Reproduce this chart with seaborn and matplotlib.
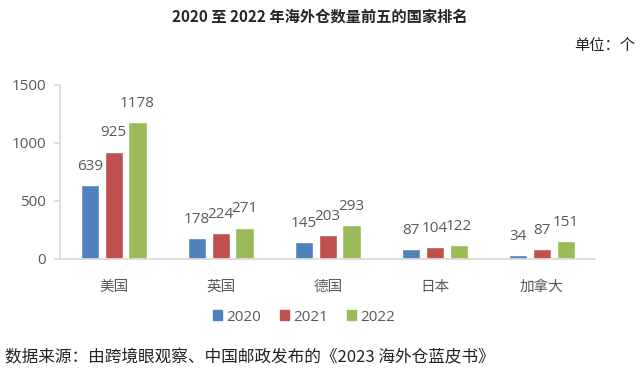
import matplotlib
matplotlib.use("Agg")
import matplotlib.pyplot as plt
import seaborn as sns
import pandas as pd
from matplotlib.patches import Patch

countries = ["美国", "英国", "德国", "日本", "加拿大"]
years = ["2020", "2021", "2022"]
v2020 = [639, 178, 145, 87, 34]
v2021 = [925, 224, 203, 104, 87]
v2022 = [1178, 271, 293, 122, 151]
colors = ["#4F81BD", "#C0504D", "#9BBB59"]

rows = []
for y, vals in zip(years, [v2020, v2021, v2022]):
    for c, v in zip(countries, vals):
        rows.append({"country": c, "year": y, "value": v})
df = pd.DataFrame(rows)

sns.set_theme(style="white")
plt.rcParams["font.family"] = ["Open Sans", "Noto Sans CJK SC", "DejaVu Sans"]

fig = plt.figure(figsize=(6.4, 3.77), dpi=100)
ax = fig.add_axes([0.094, 0.313, 0.836, 0.462])

sns.barplot(data=df, x="country", y="value", hue="year", palette=colors,
            width=0.67, gap=0.24, saturation=1, ax=ax, legend=False)

grey = "#595959"
for cont in ax.containers:
    ax.bar_label(cont, padding=8, fontsize=11, color=grey)

ax.set_xlim(-0.5, 4.5)
ax.set_ylim(0, 1500)
ax.set_yticks([0, 500, 1000, 1500])
ax.set_xlabel("")
ax.set_ylabel("")
for s in ["top", "right"]:
    ax.spines[s].set_visible(False)
ax.spines["left"].set_color("#d9d9d9")
ax.spines["bottom"].set_color("#d9d9d9")
ax.tick_params(axis="y", labelsize=11, labelcolor=grey, left=True, length=4,
               color="#d9d9d9", pad=6)
ax.tick_params(axis="x", labelsize=10.5, labelcolor=grey, bottom=False, pad=9)

handles = [Patch(color=c, label=y) for c, y in zip(colors, years)]
fig.legend(handles=handles, loc="center", bbox_to_anchor=(0.475, 0.159), ncol=3,
           frameon=False, fontsize=11, labelcolor=grey, handlelength=0.6,
           handleheight=0.6, handletextpad=0.3, columnspacing=1.2)

fig.text(0.5, 0.955, "2020 至 2022 年海外仓数量前五的国家排名", ha="center", va="center",
         fontsize=11, fontweight="bold", family=["Noto Sans CJK SC", "DejaVu Sans"])
fig.text(0.992, 0.878, "单位：个", ha="right", va="center", fontsize=11,
         family=["Noto Sans CJK SC", "DejaVu Sans"], color="#222222")
fig.text(0.008, 0.05, "数据来源：由跨境眼观察、中国邮政发布的《2023 海外仓蓝皮书》",
         ha="left", va="center", fontsize=12, family=["Noto Sans CJK SC", "DejaVu Sans"],
         color="#222222")

fig.savefig("out.png", dpi=100)
